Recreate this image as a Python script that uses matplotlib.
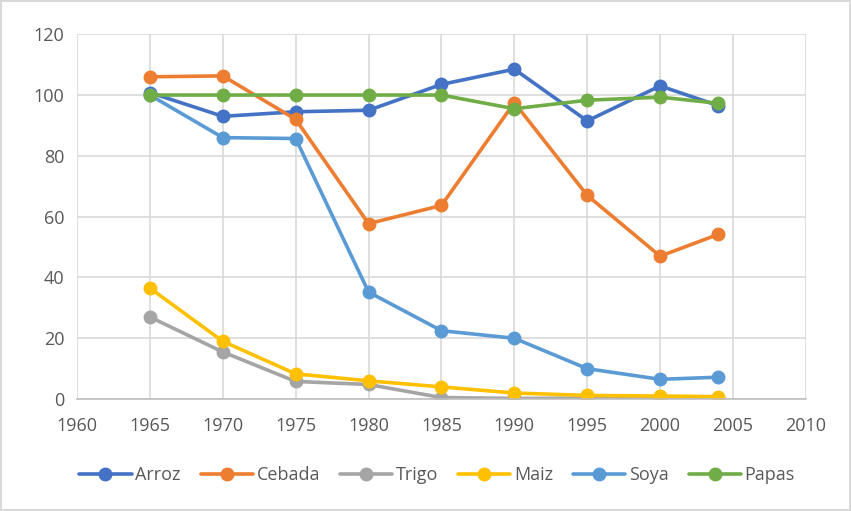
import matplotlib.pyplot as plt

# Data
years = [1965, 1970, 1975, 1980, 1985, 1990, 1995, 2000, 2004]
arroz = [100.8, 93.0, 94.5, 95.0, 103.5, 108.5, 91.5, 103.0, 96.5]
cebada = [106.0, 106.3, 92.0, 57.7, 63.7, 97.5, 67.0, 47.0, 54.2]
trigo = [27.0, 15.5, 5.8, 4.8, 0.5, 0.2, 0.3, 0.3, 0.3]
maiz = [36.5, 19.0, 8.3, 6.0, 4.0, 2.0, 1.2, 1.0, 0.8]
soya = [100.0, 86.0, 85.7, 35.2, 22.5, 20.0, 10.0, 6.5, 7.2]
papas = [100.0, 100.0, 100.0, 100.0, 100.0, 95.5, 98.3, 99.3, 97.3]

series = [
    ('Arroz', arroz, '#4472c4'),
    ('Cebada', cebada, '#ed7d31'),
    ('Trigo', trigo, '#a5a5a5'),
    ('Maiz', maiz, '#ffc000'),
    ('Soya', soya, '#5b9bd5'),
    ('Papas', papas, '#70ad47'),
]

plt.rcParams['font.family'] = ['Open Sans', 'DejaVu Sans']

fig = plt.figure(figsize=(8.51, 5.11), dpi=100)
fig.patch.set_edgecolor('#d9d9d9')
fig.patch.set_linewidth(1.5)
ax = fig.add_axes([0.0905, 0.219, 0.8565, 0.714])

for name, vals, color in series:
    ax.plot(years, vals, color=color, lw=2.6, marker='o', ms=9,
            label=name, solid_capstyle='round')

ax.set_xlim(1960, 2010)
ax.set_ylim(0, 120)
ax.set_xticks(range(1960, 2011, 5))
ax.set_yticks(range(0, 121, 20))
ax.grid(True, color='#d9d9d9', lw=1.2)
ax.set_axisbelow(True)
for s in ['top', 'right', 'left']:
    ax.spines[s].set_visible(False)
ax.spines['bottom'].set_color('#bfbfbf')
ax.spines['bottom'].set_linewidth(1.2)
ax.tick_params(length=0, labelsize=13, colors='#595959')
ax.tick_params(axis='x', pad=13)
ax.tick_params(axis='y', pad=9)

ax.legend(loc='upper center', bbox_to_anchor=(0.494, -0.14), ncol=6,
          frameon=False, fontsize=13, handlelength=2.9, columnspacing=1.1,
          handletextpad=0.2, labelcolor='#595959')

fig.savefig('out.png', dpi=100, edgecolor=fig.get_edgecolor())
